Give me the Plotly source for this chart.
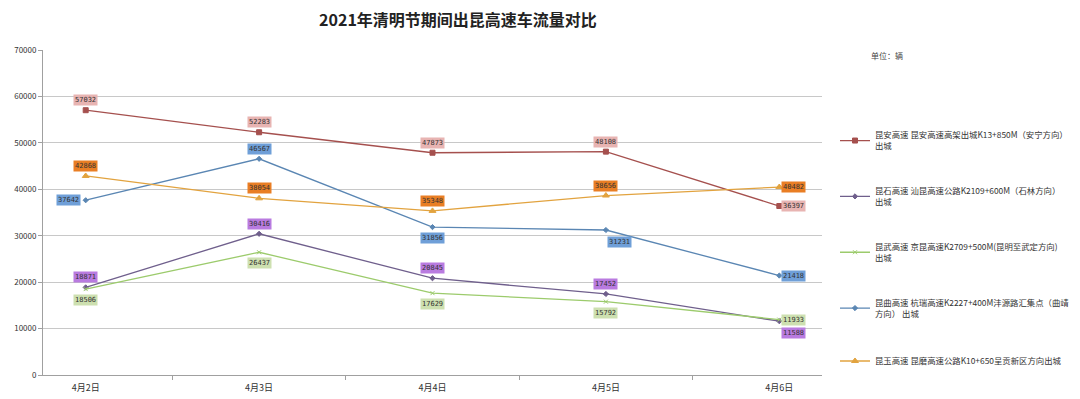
import plotly.graph_objects as go

categories = ["4月2日", "4月3日", "4月4日", "4月5日", "4月6日"]

names = [
    "昆安高速 昆安高速高架出城K13+850M（安宁方向）<br>出城",
    "昆石高速 汕昆高速公路K2109+600M（石林方向）<br>出城",
    "昆武高速 京昆高速K2709+500M(昆明至武定方向)<br>出城",
    "昆曲高速 杭瑞高速K2227+400M沣源路汇集点（曲靖<br>方向） 出城",
    "昆玉高速 昆磨高速公路K10+650呈贡新区方向出城",
]
kunan = [57032, 52283, 47873, 48108, 36397]
kunshi = [18871, 30416, 20845, 17452, 11588]
kunwu = [18506, 26437, 17629, 15792, 11933]
kunqu = [37642, 46567, 31856, 31231, 21418]
kunyu = [42868, 38054, 35348, 38656, 40482]
series = [kunan, kunshi, kunwu, kunqu, kunyu]

line_colors = ["#A5504E", "#6F5F8C", "#9CCB6C", "#5A86B3", "#E2A33F"]
label_bg = ["#E8B4B2", "#B97BE0", "#CDE0B0", "#6F9FD8", "#E97E24"]
symbols = ["square", "diamond", "x-thin", "diamond", "triangle-up"]
sizes = [5, 4, 4, 4, 6]
# label placement per series per point: a=above, b=below, r=right, l=left, br=below-right
placements = [
    ["a", "a", "a", "a", "r"],
    ["a", "a", "a", "a", "br"],
    ["b", "b", "b", "b", "r"],
    ["l", "a", "b", "br", "r"],
    ["a", "a", "a", "a", "r"],
]
shift = {"a": (0, 10), "b": (0, -11), "r": (14, 0), "l": (-17, 0), "br": (14, -12)}

# page has an 8px body margin; figure is sized so the page matches 1080x399
W, H = 1072, 391
L, T, B = 35, 42, 24
R = W - 814

fig = go.Figure()
annotations = []
for i, (nm, vals) in enumerate(zip(names, series)):
    fig.add_trace(go.Scatter(
        x=categories, y=vals, name=nm, mode="lines+markers",
        line=dict(color=line_colors[i], width=1.3),
        marker=dict(symbol=symbols[i], size=sizes[i], color=line_colors[i],
                    line=dict(color=line_colors[i], width=1)),
        legendgroup=f"g{i}",
    ))
    for c, v, p in zip(categories, vals, placements[i]):
        dx, dy = shift[p]
        annotations.append(dict(
            x=c, y=v, text=str(v), showarrow=False, xshift=dx, yshift=dy,
            bgcolor=label_bg[i], font=dict(size=7, color="#333333",
                                           family="DejaVu Sans Mono"),
            borderpad=1,
        ))

pw = W - L - R
ph = H - T - B
annotations.append(dict(
    xref="x domain", yref="y domain", x=(897 - L) / pw, y=(H - B - 40) / ph,
    text="单位：辆", showarrow=False,
    font=dict(size=8, color="#444444"),
))

fig.update_layout(
    width=W, height=H,
    margin=dict(l=L, r=R, t=T, b=B, autoexpand=False),
    paper_bgcolor="white", plot_bgcolor="white",
    font=dict(family="Noto Sans CJK SC", size=8, color="#333333"),
    title=dict(text="<b>2021年清明节期间出昆高速车流量对比</b>",
               x=(450 - L) / pw, xanchor="center", xref="paper",
               y=1 - 12 / H, yref="container", yanchor="middle",
               font=dict(size=16, color="#222222"), automargin=False),
    showlegend=True,
    legend=dict(x=(827 - L) / pw, xanchor="left", y=0.775, yanchor="top",
                font=dict(size=8.4, color="#333333"),
                tracegroupgap=31, itemwidth=30, bgcolor="rgba(0,0,0,0)"),
    annotations=annotations,
)
fig.update_xaxes(
    type="category", showgrid=False, showline=True, linecolor="#A0A0A0",
    ticks="outside", tickson="boundaries", ticklen=4, tickcolor="#A0A0A0",
    tickfont=dict(size=9, color="#333333"), automargin=False,
    ticklabelstandoff=4,
)
fig.update_yaxes(
    range=[0, 70000], dtick=10000, tickformat="d", showgrid=True,
    gridcolor="#C8C8C8", showline=True, linecolor="#A0A0A0", zeroline=False,
    ticks="outside", ticklen=4, tickcolor="#A0A0A0",
    tickfont=dict(size=8, color="#333333"), automargin=False,
)

fig.write_html("out.html")
